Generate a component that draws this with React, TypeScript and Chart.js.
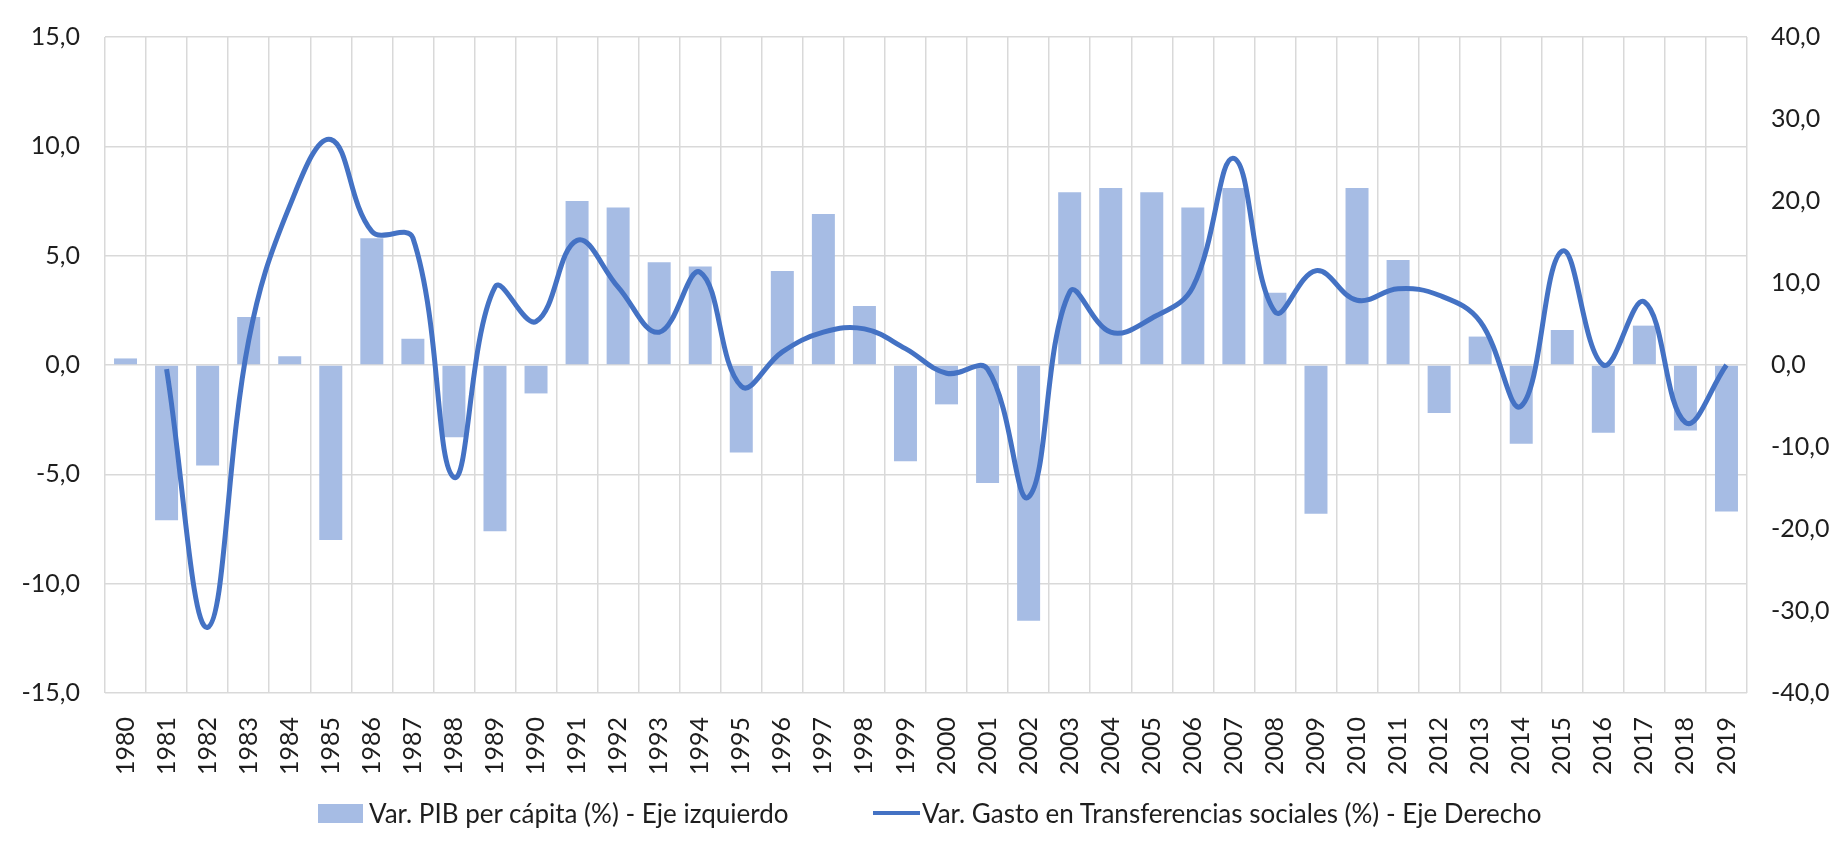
import React, { useEffect, useRef } from "react";
import Chart from "chart.js/auto";

const years = [
  "1980", "1981", "1982", "1983", "1984", "1985", "1986", "1987", "1988", "1989",
  "1990", "1991", "1992", "1993", "1994", "1995", "1996", "1997", "1998", "1999",
  "2000", "2001", "2002", "2003", "2004", "2005", "2006", "2007", "2008", "2009",
  "2010", "2011", "2012", "2013", "2014", "2015", "2016", "2017", "2018", "2019",
];

// Var. PIB per cápita (%) - left axis
const pibPerCapita = [
  0.3, -7.1, -4.6, 2.2, 0.4, -8.0, 5.8, 1.2, -3.3, -7.6,
  -1.3, 7.5, 7.2, 4.7, 4.5, -4.0, 4.3, 6.9, 2.7, -4.4,
  -1.8, -5.4, -11.7, 7.9, 8.1, 7.9, 7.2, 8.1, 3.3, -6.8,
  8.1, 4.8, -2.2, 1.3, -3.6, 1.6, -3.1, 1.8, -3.0, -6.7,
];

// Var. Gasto en Transferencias sociales (%) - right axis
const gastoTransferencias = [
  null, -0.5, -32.0, 3.0, 19.4, 27.5, 16.3, 15.5, -13.7, 9.5,
  5.3, 15.2, 9.5, 4.0, 11.3, -2.6, 1.6, 4.0, 4.4, 2.0,
  -1.0, -0.5, -16.1, 8.9, 4.0, 5.7, 9.5, 25.2, 6.5, 11.5,
  7.9, 9.3, 8.5, 5.3, -5.0, 13.9, 0.0, 7.7, -7.0, 0.0,
];

const seriesLabels = [
  "Var. PIB per cápita (%) - Eje izquierdo",
  "Var. Gasto en Transferencias sociales (%) - Eje Derecho",
];

const leftRange = [-15, 15];
const rightRange = [-40, 40];

const BAR_COLOR = "#A6BCE4";
const LINE_COLOR = "#4472C4";
const GRID_COLOR = "#D9D9D9";
const TEXT_COLOR = "#1E1E1E";
const FONT_FAMILY = "Lato, 'Open Sans', sans-serif";

const fmt = (v: number | string) => Number(v).toFixed(1).replace(".", ",");

export default function App() {
  const canvasRef = useRef<HTMLCanvasElement | null>(null);

  useEffect(() => {
    if (!canvasRef.current) return;
    const chart = new Chart(canvasRef.current, {
      type: "bar",
      data: {
        labels: years,
        datasets: [
          {
            type: "line",
            label: seriesLabels[1],
            data: gastoTransferencias,
            yAxisID: "yRight",
            borderColor: LINE_COLOR,
            backgroundColor: LINE_COLOR,
            borderWidth: 5,
            pointRadius: 0,
            tension: 0.4,
            fill: false,
            order: 0,
          } as any,
          {
            type: "bar",
            label: seriesLabels[0],
            data: pibPerCapita,
            yAxisID: "yLeft",
            backgroundColor: BAR_COLOR,
            borderWidth: 0,
            categoryPercentage: 1,
            barPercentage: 0.56,
            order: 1,
          },
        ],
      },
      options: {
        animation: false,
        responsive: true,
        maintainAspectRatio: false,
        layout: { padding: { top: 29, left: 0, right: 0, bottom: 0 } },
        plugins: {
          legend: { display: false },
          tooltip: { enabled: false },
        },
        scales: {
          x: {
            offset: true,
            grid: { color: GRID_COLOR, lineWidth: 1.5, offset: true, drawTicks: false },
            border: { display: false },
            ticks: {
              autoSkip: false,
              maxRotation: 90,
              minRotation: 90,
              padding: 24,
              color: TEXT_COLOR,
              font: { family: FONT_FAMILY, size: 25 },
            },
            afterFit: (scale: any) => {
              scale.height = 146;
            },
          },
          yLeft: {
            position: "left",
            min: leftRange[0],
            max: leftRange[1],
            grid: { color: GRID_COLOR, lineWidth: 1.5, drawTicks: false },
            border: { display: false },
            ticks: {
              stepSize: 5,
              padding: 25,
              color: TEXT_COLOR,
              font: { family: FONT_FAMILY, size: 25 },
              callback: (v: any) => fmt(v),
            },
            afterFit: (scale: any) => {
              scale.width = 97;
              scale.paddingTop = 14;
              scale.paddingBottom = 14;
            },
          },
          yRight: {
            position: "right",
            min: rightRange[0],
            max: rightRange[1],
            grid: { drawOnChartArea: false, drawTicks: false },
            border: { display: false },
            ticks: {
              stepSize: 10,
              padding: 24,
              color: TEXT_COLOR,
              font: { family: FONT_FAMILY, size: 25 },
              callback: (v: any) => fmt(v),
            },
            afterFit: (scale: any) => {
              scale.width = 82;
              scale.paddingTop = 14;
              scale.paddingBottom = 14;
            },
          },
        },
      },
    });
    return () => chart.destroy();
  }, []);

  const legendText: React.CSSProperties = {
    fontFamily: FONT_FAMILY,
    fontSize: 26,
    color: TEXT_COLOR,
    whiteSpace: "nowrap",
  };

  return (
    <div style={{ position: "relative", width: 1821, height: 831 }}>
      <canvas ref={canvasRef} />
      <div
        style={{
          position: "absolute",
          left: 310,
          top: 790,
          height: 30,
          display: "flex",
          alignItems: "center",
        }}
      >
        <span
          style={{ display: "inline-block", width: 45, height: 19, background: BAR_COLOR, marginRight: 6 }}
        />
        <span style={legendText}>{seriesLabels[0]}</span>
      </div>
      <div
        style={{
          position: "absolute",
          left: 865,
          top: 790,
          height: 30,
          display: "flex",
          alignItems: "center",
        }}
      >
        <span
          style={{ display: "inline-block", width: 47, height: 4, background: LINE_COLOR, marginRight: 2 }}
        />
        <span style={legendText}>{seriesLabels[1]}</span>
      </div>
    </div>
  );
}
